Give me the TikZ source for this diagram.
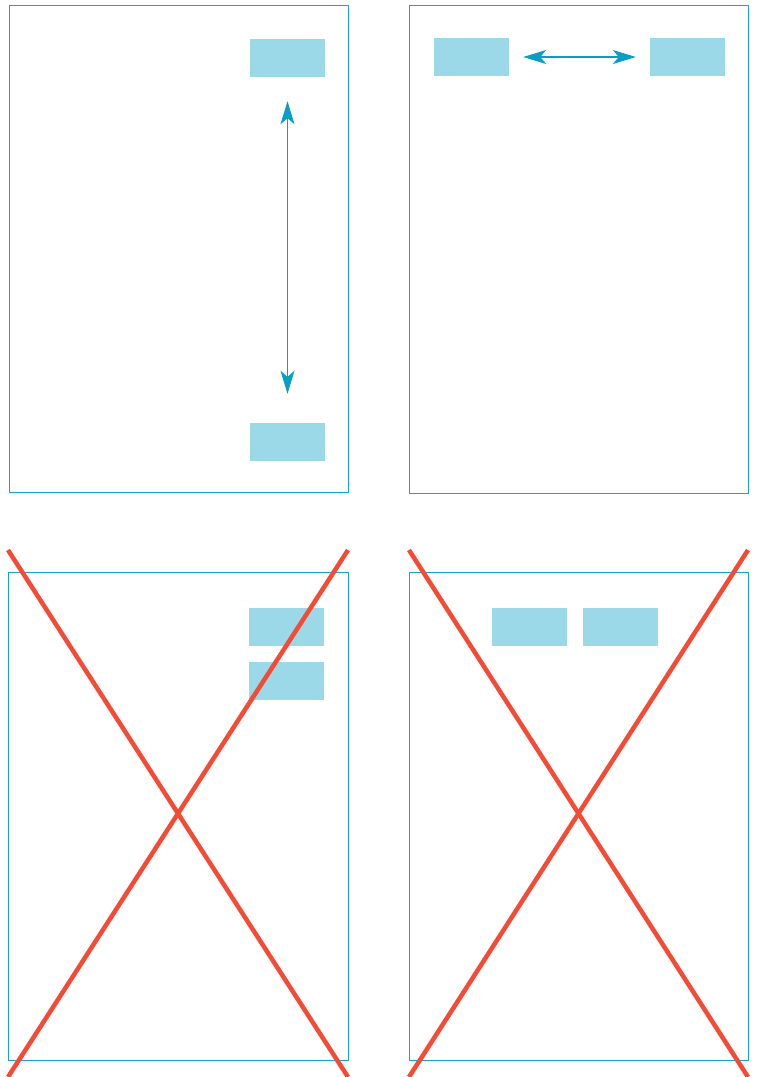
\documentclass[tikz,border=0pt]{standalone}
\usepackage{xcolor}
\usepackage{tikz}
\usetikzlibrary{positioning,arrows.meta}
\definecolor{cFrame}{HTML}{1AA3C8}
\definecolor{cBox}{HTML}{9CD9E8}
\definecolor{cArrow}{HTML}{0A9EC4}
\definecolor{cCross}{HTML}{F44B36}

\begin{document}
\begin{tikzpicture}[
  x=1pt,y=-1pt,
  frame/.style={draw=cFrame,line width=0.9pt},
  blk/.style={fill=cBox,minimum width=75pt,minimum height=38pt,inner sep=0pt},
  ar/.style={{Stealth[length=23pt,width=14pt,inset=6pt]}-{Stealth[length=23pt,width=14pt,inset=6pt]},cArrow,line width=1.1pt},
  cross/.style={draw=cCross,line width=4.5pt}
]
\useasboundingbox (0,0) rectangle (756,1077);
% panels
\draw[frame] (9,5) rectangle (348,492);
\draw[frame] (409,5) rectangle (748,493);
\draw[frame] (8,572) rectangle (348,1060);
\draw[frame] (409,572) rectangle (748,1060);
% top left
\node[blk] (a1) at (287.5,58) {};
\node[blk] (a2) at (287.5,442) {};
\draw[ar,shorten <=24pt,shorten >=29pt] (a1.south) -- (a2.north);
% top right
\node[blk] (b1) at (471.5,57) {};
\node[blk] (b2) at (687.5,57) {};
\draw[ar,shorten <=14pt,shorten >=14pt] (b1.east) -- (b2.west);
% bottom left
\node[blk] (c1) at (286.5,627) {};
\node[blk,below=16pt of c1] (c2) {};
% bottom right
\node[blk] (d1) at (529.5,627) {};
\node[blk,right=16pt of d1] (d2) {};
% crosses
\coordinate (c3a) at (8,550);   \coordinate (c3b) at (348,1077);
\coordinate (c3c) at (348,550); \coordinate (c3d) at (8,1077);
\coordinate (c4a) at (409,550); \coordinate (c4b) at (748,1077);
\coordinate (c4c) at (748,550); \coordinate (c4d) at (409,1077);
\draw[cross] (c3a) -- (c3b);  \draw[cross] (c3c) -- (c3d);
\draw[cross] (c4a) -- (c4b);  \draw[cross] (c4c) -- (c4d);
\end{tikzpicture}
\end{document}
